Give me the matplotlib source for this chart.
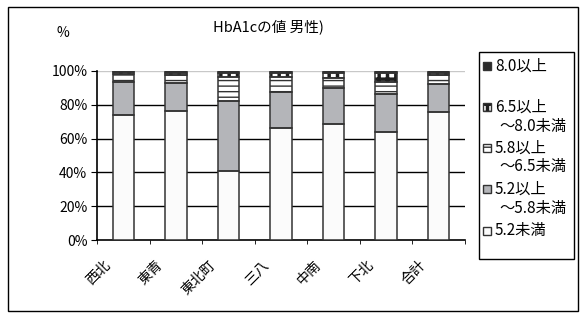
import numpy as np
import matplotlib
matplotlib.use("Agg")
import matplotlib.pyplot as plt
import matplotlib.transforms as mtrans
from matplotlib.patches import Rectangle

plt.rcParams['font.family'] = ['Noto Sans CJK JP', 'DejaVu Sans']

# data (percent, bottom to top)
areas     = ['西北', '東青', '東北町', '三八', '中南', '下北', '合計']
under52   = [74.0, 76.5, 41.0, 66.5, 68.4, 64.0, 75.5]
r52_58    = [19.5, 16.2, 41.5, 21.3, 21.6, 22.2, 16.8]
r58_65    = [4.5, 4.8, 14.0, 8.8, 5.7, 7.5, 5.3]
r65_80    = [1.2, 1.5, 2.5, 2.4, 3.3, 5.3, 1.4]
over80    = [0.8, 1.0, 1.0, 1.0, 1.0, 1.0, 1.0]
yticks    = [0, 20, 40, 60, 80, 100]

series = [under52, r52_58, r58_65, r65_80, over80]
# facecolor, hatch colour (edge), hatch
styles = [('#fbfbfb', '#333333', None),
          ('#b4b5b9', '#333333', None),
          ('white', '#333333', '---'),
          ('white', '#1e1e1e', '++'),
          ('#2a2a2a', '#2a2a2a', None)]

fig = plt.figure(figsize=(5.82, 3.18), dpi=100)
ax = fig.add_axes([97/582, 1-240/318, 368/582, 169/318])

x = np.arange(len(areas))
w = 0.41
bottom = np.zeros(len(areas))
for vals, (fc, ec, h) in zip(series, styles):
    bars = ax.bar(x, vals, w, bottom=bottom, color=fc, edgecolor=ec, hatch=h,
                  linewidth=0, zorder=3)
    if h == '++':
        for b in bars:
            b.set_hatch_linewidth(2.5)
    ax.bar(x, vals, w, bottom=bottom, fill=False, edgecolor='#333333',
           linewidth=1.1, zorder=4)
    bottom += np.array(vals)

ax.set_xlim(-0.5, len(areas) - 0.5)
ax.set_ylim(0, 100)
ax.set_yticks(yticks)
ax.set_yticklabels(['{}%'.format(v) for v in yticks], fontsize=10)
for v in yticks[1:-1]:
    ax.axhline(v, color='black', lw=1.0, zorder=1)
ax.axhline(100, color='#c8c8c8', lw=1.0, zorder=1)

ax.set_xticks(x)
ax.set_xticklabels(areas, rotation=45, ha='right', rotation_mode='anchor',
                   fontsize=10)
ax.tick_params(axis='x', length=0, pad=13)
shift = mtrans.ScaledTranslation(-20/100, 0, fig.dpi_scale_trans)
for lab in ax.get_xticklabels():
    lab.set_transform(lab.get_transform() + shift)
ax.set_xticks(np.arange(-0.5, len(areas)), minor=True)
ax.tick_params(axis='x', which='minor', length=3, direction='out')
ax.tick_params(axis='y', length=4, direction='out', pad=3)

for s in ['top', 'right']:
    ax.spines[s].set_visible(False)
ax.spines['left'].set_linewidth(1.2)
ax.spines['bottom'].set_linewidth(1.2)

fig.text(268/582, 1-27/318, 'HbA1cの値 男性)', ha='center', va='center',
         fontsize=10.5)
fig.text(63/582, 1-33/318, '%', ha='center', va='center', fontsize=10)

# outer border
fig.patches.append(Rectangle((8/582, 1-311/318), 570/582, 304/318,
                             transform=fig.transFigure, fill=False,
                             edgecolor='black', lw=1.0))

# legend box
fig.patches.append(Rectangle((479/582, 1-259/318), 95/582, 207/318,
                             transform=fig.transFigure, fill=False,
                             edgecolor='black', lw=1.0))
leg_items = [('8.0以上', None, 66, 4),
             ('6.5以上', '～8.0未満', 107, 3),
             ('5.8以上', '～6.5未満', 148, 2),
             ('5.2以上', '～5.8未満', 189, 1),
             ('5.2未満', None, 231, 0)]
for l1, l2, yy, k in leg_items:
    fc, ec, h = styles[k]
    sw = Rectangle((483/582, 1-(yy+4)/318), 8/582, 8/318,
                   transform=fig.transFigure, facecolor=fc,
                   edgecolor=ec, hatch=h, lw=0)
    if h == '++':
        sw.set_hatch_linewidth(2.5)
    fig.patches.append(sw)
    fig.patches.append(Rectangle((483/582, 1-(yy+4)/318), 8/582, 8/318,
                                 transform=fig.transFigure, fill=False,
                                 edgecolor='#333333', lw=1.0))
    fig.text(495/582, 1-yy/318, l1, ha='left', va='center', fontsize=11)
    if l2:
        fig.text(499/582, 1-(yy+19)/318, l2, ha='left', va='center',
                 fontsize=11)

fig.savefig('out.png', dpi=100)
